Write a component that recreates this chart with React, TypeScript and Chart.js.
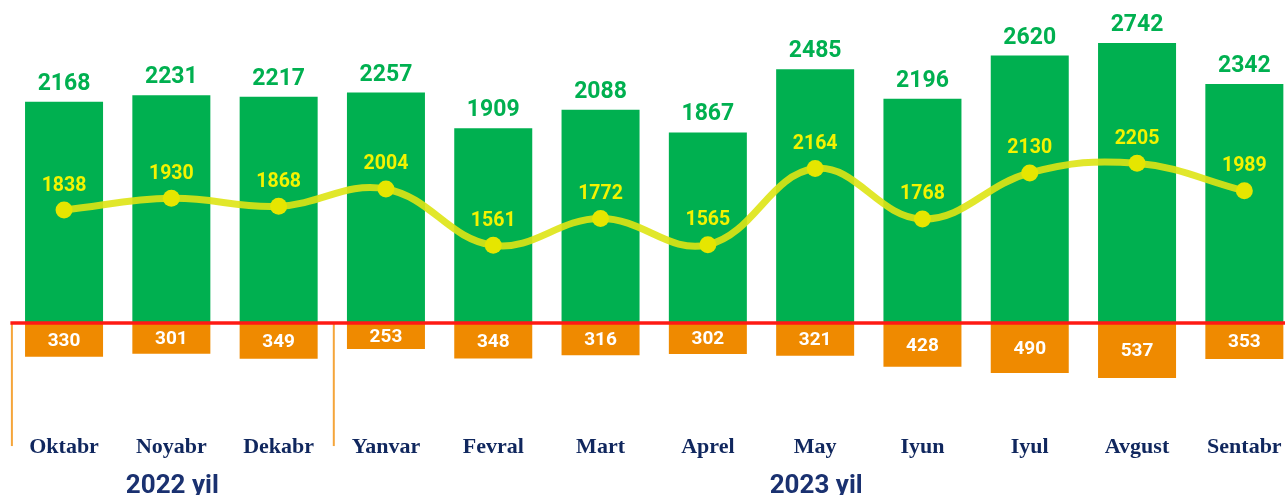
import React, { useEffect, useRef } from "react";
import { Chart, registerables } from "chart.js";

Chart.register(...registerables);

const months = ["Oktabr", "Noyabr", "Dekabr", "Yanvar", "Fevral", "Mart", "Aprel", "May", "Iyun", "Iyul", "Avgust", "Sentabr"];
const greenValues = [2168, 2231, 2217, 2257, 1909, 2088, 1867, 2485, 2196, 2620, 2742, 2342];
const orangeValues = [330, 301, 349, 253, 348, 316, 302, 321, 428, 490, 537, 353];
const lineValues = [1838, 1930, 1868, 2004, 1561, 1772, 1565, 2164, 1768, 2130, 2205, 1989];
const yearLabels = ["2022 yil", "2023 yil"];
const yearLabelIndex = [1, 7];
const separatorBefore = [0, 3];

const GREEN = "#00b050";
const ORANGE = "#ef8a00";
const NAVY = "#10275e";

const labelPlugin = {
  id: "customLabels",
  afterDatasetsDraw(chart: any) {
    const ctx = chart.ctx;
    const xs = chart.scales.x;
    const ys = chart.scales.y;
    const area = chart.chartArea;
    const zeroY = ys.getPixelForValue(0);
    const catW = xs.getPixelForValue(1) - xs.getPixelForValue(0);

    ctx.save();
    // separators
    ctx.strokeStyle = "#f5a53a";
    ctx.lineWidth = 2;
    separatorBefore.forEach((i) => {
      const x = xs.getPixelForValue(i) - catW / 2 + 1.5;
      ctx.beginPath();
      ctx.moveTo(x, zeroY);
      ctx.lineTo(x, zeroY + 123);
      ctx.stroke();
    });
    // red zero line
    ctx.strokeStyle = "#ff1a14";
    ctx.lineWidth = 3.5;
    ctx.beginPath();
    ctx.moveTo(area.left, zeroY);
    ctx.lineTo(area.right, zeroY);
    ctx.stroke();

    // green labels
    const gMeta = chart.getDatasetMeta(0);
    ctx.textAlign = "center";
    ctx.textBaseline = "alphabetic";
    ctx.font = "bold 23px Roboto";
    ctx.fillStyle = GREEN;
    gMeta.data.forEach((bar: any, i: number) => {
      ctx.fillText(String(greenValues[i]), bar.x, bar.y - 12);
    });
    // orange labels
    const oMeta = chart.getDatasetMeta(1);
    ctx.font = "bold 19px Roboto";
    ctx.fillStyle = "#ffffff";
    ctx.textBaseline = "middle";
    oMeta.data.forEach((bar: any, i: number) => {
      ctx.fillText(String(orangeValues[i]), bar.x, (bar.y + bar.base) / 2 + 1);
    });
    // line labels
    const lMeta = chart.getDatasetMeta(2);
    ctx.textBaseline = "alphabetic";
    ctx.font = "bold 19.5px Roboto";
    ctx.fillStyle = "#f3f300";
    lMeta.data.forEach((pt: any, i: number) => {
      ctx.fillText(String(lineValues[i]), pt.x, pt.y - 19.5);
    });

    // month labels
    ctx.font = "bold 22px 'Liberation Serif'";
    ctx.fillStyle = NAVY;
    months.forEach((m, i) => {
      ctx.fillText(m, xs.getPixelForValue(i), 453);
    });
    // year labels
    ctx.font = "bold 26px Roboto";
    ctx.fillStyle = "#1a3170";
    yearLabels.forEach((t, k) => {
      ctx.fillText(t, xs.getPixelForValue(yearLabelIndex[k]) + 1, 493);
    });
    ctx.restore();
  },
};

export default function App() {
  const ref = useRef<HTMLCanvasElement | null>(null);
  useEffect(() => {
    if (!ref.current) return;
    const chart = new Chart(ref.current, {
      type: "bar",
      data: {
        labels: months,
        datasets: [
          {
            type: "bar",
            data: greenValues,
            backgroundColor: GREEN,
            categoryPercentage: 1,
            barPercentage: 0.727,
            yAxisID: "y",
            order: 2,
          } as any,
          {
            type: "bar",
            data: orangeValues.map((v) => -v),
            backgroundColor: ORANGE,
            categoryPercentage: 1,
            barPercentage: 0.727,
            yAxisID: "y",
            order: 2,
          } as any,
          {
            type: "line",
            data: lineValues,
            borderColor: "rgba(222,228,20,0.9)",
            borderWidth: 7,
            tension: 0.4,
            pointRadius: 8.5,
            pointBackgroundColor: "#e6e600",
            pointBorderWidth: 0,
            borderCapStyle: "round",
            yAxisID: "y2",
            order: 0,
          } as any,
        ],
      },
      options: {
        responsive: false,
        animation: false,
        devicePixelRatio: 1,
        layout: { autoPadding: false, padding: { left: 10.4, right: 0, top: 0, bottom: 0 } },
        plugins: { legend: { display: false }, tooltip: { enabled: false } },
        scales: {
          x: { display: false, stacked: true },
          y: { display: false, stacked: true, min: -1684, max: 3164 },
          y2: { display: false, min: -400, max: 3488 },
        },
      } as any,
      plugins: [labelPlugin],
    });
    return () => chart.destroy();
  }, []);
  return (
    <div style={{ position: "fixed", left: 0, top: 0, width: 1285, height: 495, overflow: "hidden", background: "#fff" }}>
      <canvas ref={ref} width={1298} height={495} style={{ width: 1298, height: 495, display: "block" }} />
    </div>
  );
}
